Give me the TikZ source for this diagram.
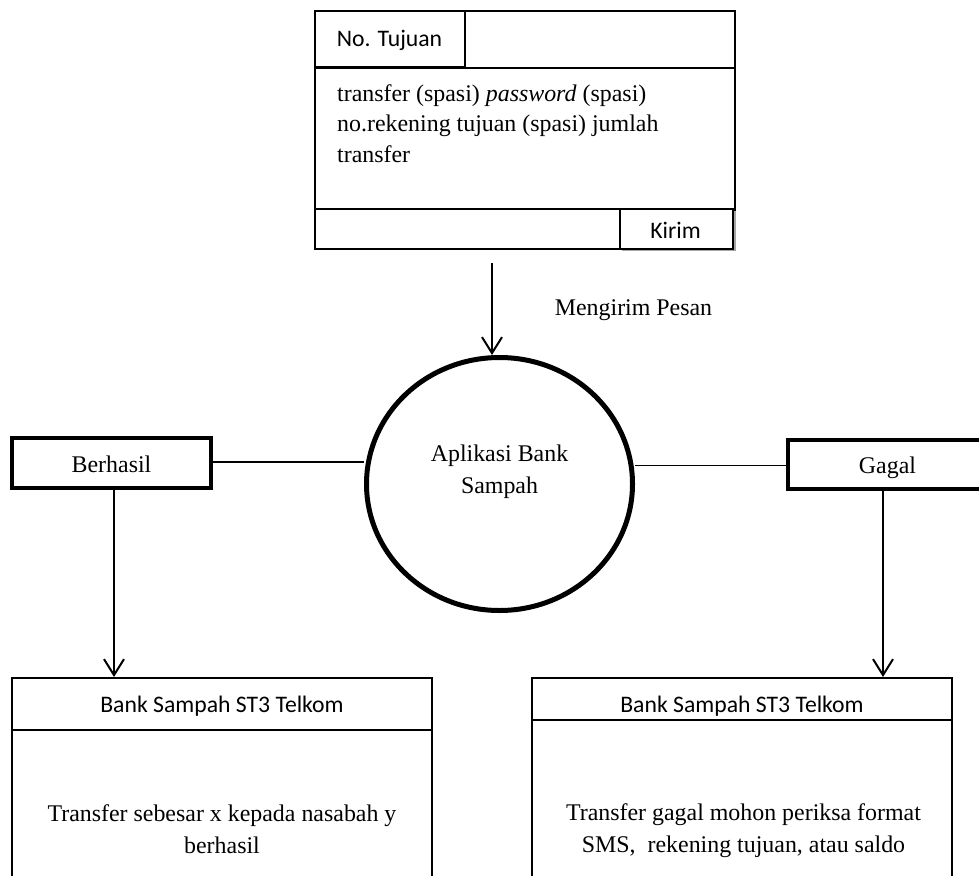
\documentclass[tikz,border=0pt]{standalone}
\usepackage{fontspec}
\setmainfont{Liberation Serif}
\newfontfamily\calfont{Carlito}
\usetikzlibrary{arrows.meta,shapes.geometric}

\begin{document}
\begin{tikzpicture}[x=1pt,y=-1pt,
  serif/.style={font=\fontsize{23.9}{30.5}\selectfont, inner sep=0pt},
  wide/.style={font=\fontsize{23.9}{31.5}\selectfont},
  sans/.style={font=\calfont\fontsize{23.7}{28}\selectfont, inner sep=0pt},
  frame/.style={draw, line width=2pt, inner sep=0pt},
  heavy/.style={draw, line width=4pt, inner sep=0pt},
  link/.style={line width=1.5pt},
  flow/.style={line width=2pt, -{Straight Barb[length=16pt,width=20pt,line width=2pt]}},
]
\useasboundingbox (0,0) rectangle (979,875);
\fill[white] (0,0) rectangle (979,875);

% SMS form
\node[frame, minimum width=420pt, minimum height=238pt] (form) at (525,130) {};
\node[frame, minimum width=150pt, minimum height=56pt] (tujuancell) at (390,39) {};
\draw[line width=2pt] (tujuancell.south west) -- (tujuancell.south west -| form.east);
\node[sans, anchor=base] (tujuan) at (389.5,46.5) {No. Tujuan};
\node[serif, anchor=base west, align=left] (msg) at (337,162)
  {transfer (spasi) \textit{password} (spasi)\\no.rekening tujuan (spasi) jumlah\\transfer};
\coordinate (rowtop) at (315,209);
\draw[line width=2pt] (rowtop) -- (rowtop -| form.east);
\fill[gray!70] (622,211) rectangle (736,251);
\node[frame, fill=white, minimum width=113pt, minimum height=40pt] (kirimbox) at (676.5,228.5) {};
\node[sans, anchor=base] (kirim) at (675.5,238) {Kirim};

% process
\node[ellipse, draw, line width=5pt, inner sep=0pt,
      minimum width=266pt, minimum height=253pt] (app) at (499.5,484) {};
\node[serif, wide, anchor=base, align=center] (apptext) at (499.5,493) {Aplikasi Bank\\Sampah};

\coordinate (msgstart) at (492,263);
\draw[flow] (msgstart) -- (msgstart |- app.north);
\node[serif, anchor=base] (msglabel) at (633.5,315) {Mengirim Pesan};

% outcomes
\node[heavy, minimum width=199pt, minimum height=50pt] (ok) at (111.5,463) {};
\node[serif, anchor=base] (oktext) at (111.5,472) {Berhasil};
\node[heavy, minimum width=201pt, minimum height=49pt] (fail) at (888.5,464.5) {};
\node[serif, anchor=base] (failtext) at (887.5,473) {Gagal};

\draw[link] ([yshift=1pt]ok.east) -- ([yshift=1pt]ok.east -| app.west);
\draw[link] ([yshift=-1.2pt]fail.west) -- ([yshift=-1.2pt]fail.west -| app.east);

% replies
\node[frame, minimum width=420pt, minimum height=52pt] (okhead) at (222,704) {};
\node[frame, minimum width=420pt, minimum height=170pt] (okbody) at (222,815) {};
\node[sans, anchor=base] (okheadtext) at (222,712) {Bank Sampah ST3 Telkom};
\node[serif, wide, anchor=base, align=center] (okbodytext) at (222,853)
  {Transfer sebesar x kepada nasabah y\\berhasil};

\node[frame, minimum width=420pt, minimum height=42pt] (failhead) at (742,699) {};
\node[frame, minimum width=420pt, minimum height=180pt] (failbody) at (742,810) {};
\node[sans, anchor=base] (failheadtext) at (742,712) {Bank Sampah ST3 Telkom};
\node[serif, wide, anchor=base, align=center] (failbodytext) at (743.5,852)
  {Transfer gagal mohon periksa format\\SMS,\ \ rekening tujuan, atau saldo};

\draw[flow] ([xshift=2.5pt]ok.south) -- ([xshift=2.5pt]ok.south |- okhead.north);
\draw[flow] ([xshift=-5.5pt]fail.south) -- ([xshift=-5.5pt]fail.south |- failhead.north);
\end{tikzpicture}
\end{document}
